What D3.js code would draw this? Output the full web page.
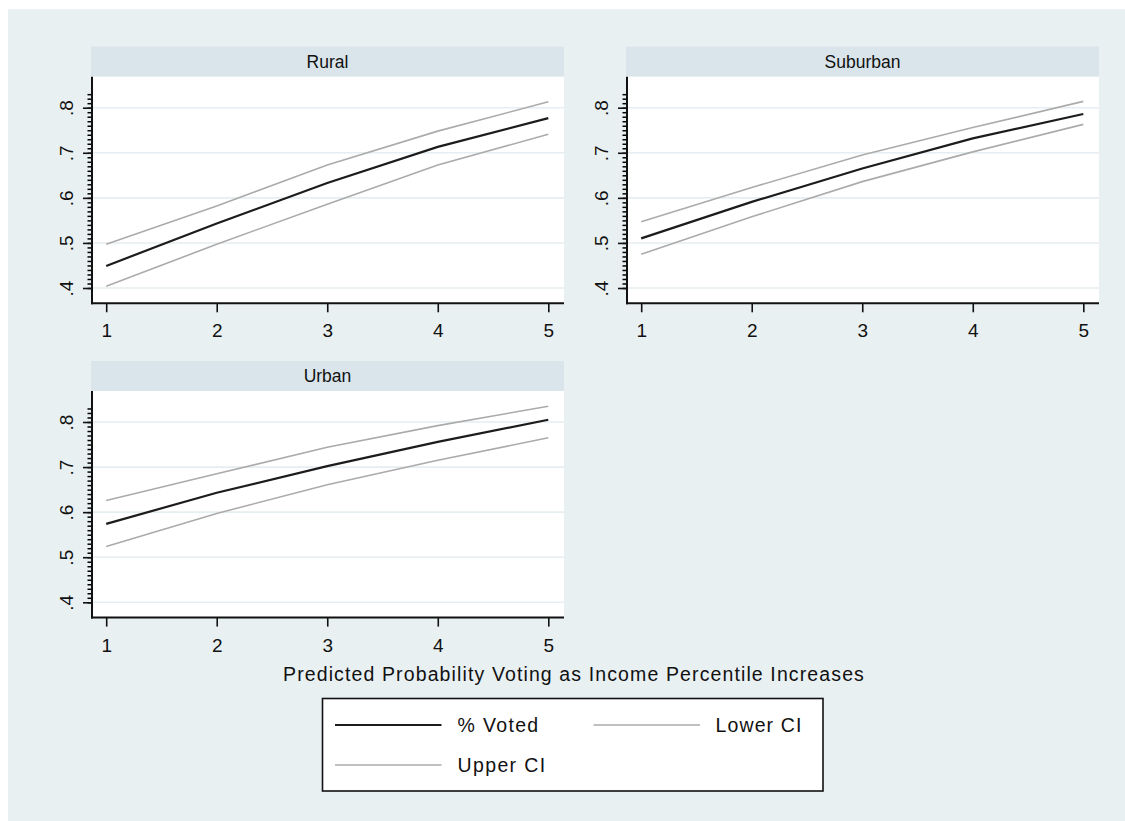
<!DOCTYPE html>
<html>
<head>
<meta charset="utf-8">
<script src="https://cdn.jsdelivr.net/npm/d3@7"></script>
<style>
  html, body { margin: 0; padding: 0; background: #ffffff; }
  svg { display: block; }
  text { font-family: "Liberation Sans", Arial, sans-serif; fill: #111; }
</style>
</head>
<body>
<svg id="chart" width="1125" height="821"></svg>
<script>
// ---------- data ----------
const incomeLevels = [1, 2, 3, 4, 5];
const panelNames = ["Rural", "Suburban", "Urban"];
const ruralVoted   = [0.449, 0.543, 0.633, 0.713, 0.777];
const ruralLower   = [0.404, 0.497, 0.586, 0.673, 0.741];
const ruralUpper   = [0.497, 0.582, 0.673, 0.748, 0.813];
const suburbVoted  = [0.510, 0.591, 0.665, 0.732, 0.786];
const suburbLower  = [0.475, 0.558, 0.636, 0.702, 0.763];
const suburbUpper  = [0.547, 0.623, 0.695, 0.756, 0.814];
const urbanVoted   = [0.574, 0.643, 0.702, 0.756, 0.805];
const urbanLower   = [0.524, 0.597, 0.661, 0.715, 0.765];
const urbanUpper   = [0.626, 0.685, 0.744, 0.792, 0.835];
const yTickValues  = [0.4, 0.5, 0.6, 0.7, 0.8];
const yTickLabels  = [".4", ".5", ".6", ".7", ".8"];
const xTickLabels  = ["1", "2", "3", "4", "5"];
const seriesNames  = ["% Voted", "Lower CI", "Upper CI"];
const xTitle = "Predicted Probability Voting as Income Percentile Increases";

const panelSeries = {
  "Rural":    [ruralVoted, ruralLower, ruralUpper],
  "Suburban": [suburbVoted, suburbLower, suburbUpper],
  "Urban":    [urbanVoted, urbanLower, urbanUpper]
};

// ---------- styles ----------
const seriesStyle = [
  { color: "#1c1c1c", width: 2.2 },
  { color: "#ababab", width: 1.6 },
  { color: "#ababab", width: 1.6 }
];

const svg = d3.select("#chart");

function fitWidth(sel, target) {
  const w = sel.node().getComputedTextLength();
  const n = sel.text().length;
  sel.style("letter-spacing", ((target - w) / n) + "px");
}

// outer graph region
svg.append("rect").attr("x", 8).attr("y", 9).attr("width", 1117).attr("height", 812)
  .attr("fill", "#e9f0f2");

const panelW = 473, headerH = 30, plotH = 226.6;
const panelPos = {
  "Rural":    { x: 91,  y: 46.7 },
  "Suburban": { x: 626, y: 46.7 },
  "Urban":    { x: 91,  y: 361 }
};

const x = d3.scaleLinear().domain([1, 5]).range([15.2, 457.3]);
const y = d3.scaleLinear().domain([0.4, 0.8]).range([211.3, 31]);

const minorTicks = d3.range(40, 84).map(d => d / 100);

panelNames.forEach(name => {
  const p = panelPos[name];
  const g = svg.append("g").attr("transform", `translate(${p.x},${p.y})`);

  // header strip
  g.append("rect").attr("x", 0).attr("y", 0).attr("width", panelW).attr("height", headerH)
    .attr("fill", "#d9e5ea");
  g.append("text").attr("x", panelW / 2).attr("y", headerH / 2 + 6)
    .attr("text-anchor", "middle").style("font-size", "17.5px").text(name);

  const pg = g.append("g").attr("transform", `translate(0,${headerH})`);
  pg.append("rect").attr("x", 0).attr("y", 0).attr("width", panelW).attr("height", plotH)
    .attr("fill", "#ffffff");

  // gridlines
  pg.selectAll("line.grid").data(yTickValues).enter().append("line")
    .attr("class", "grid")
    .attr("x1", 1).attr("x2", panelW)
    .attr("y1", d => y(d)).attr("y2", d => y(d))
    .attr("stroke", "#e6eef1").attr("stroke-width", 1.6);

  // series lines
  const lineGen = d3.line().x((d, i) => x(incomeLevels[i])).y(d => y(d));
  const series = panelSeries[name];
  [1, 2, 0].forEach(si => {
    pg.append("path").datum(series[si])
      .attr("d", lineGen)
      .attr("fill", "none")
      .attr("stroke", seriesStyle[si].color)
      .attr("stroke-width", seriesStyle[si].width);
  });

  // minor y ticks
  const minorAxis = d3.axisLeft(y).tickValues(minorTicks).tickSize(4.5).tickFormat("");
  const mg = pg.append("g").attr("transform", "translate(1,0)").call(minorAxis);
  mg.select(".domain").remove();
  mg.selectAll(".tick line").attr("stroke", "#000").attr("stroke-width", 1.5);

  // major y axis
  const yAxis = d3.axisLeft(y).tickValues(yTickValues).tickSize(9)
    .tickFormat((d, i) => yTickLabels[i]);
  const yg = pg.append("g").attr("transform", "translate(1,0)").call(yAxis);
  yg.select(".domain").remove();
  yg.selectAll(".tick line").attr("stroke", "#111").attr("stroke-width", 1.6);
  yg.selectAll(".tick text")
    .attr("x", 0).attr("y", -19.5).attr("dy", 0)
    .attr("transform", "rotate(-90)")
    .attr("text-anchor", "middle")
    .style("font-size", "19px").attr("fill", "#111");
  pg.append("line").attr("x1", 1).attr("x2", 1).attr("y1", 0).attr("y2", plotH + 1)
    .attr("stroke", "#111").attr("stroke-width", 2);

  // x axis
  const xAxis = d3.axisBottom(x).tickValues(incomeLevels).tickSize(9)
    .tickFormat((d, i) => xTickLabels[i]);
  const xg = pg.append("g").attr("transform", `translate(0,${plotH})`).call(xAxis);
  xg.select(".domain").remove();
  xg.selectAll(".tick line").attr("stroke", "#111").attr("stroke-width", 1.6);
  xg.selectAll(".tick text").attr("y", 34).attr("dy", 0)
    .style("font-size", "19px").attr("fill", "#111");
  pg.append("line").attr("x1", 0).attr("x2", panelW).attr("y1", plotH).attr("y2", plotH)
    .attr("stroke", "#111").attr("stroke-width", 2);
});

// x title
const tt = svg.append("text").attr("x", 283).attr("y", 681)
  .style("font-size", "19.5px").text(xTitle);
fitWidth(tt, 582);

// legend
const lg = svg.append("g");
lg.append("rect").attr("x", 322.5).attr("y", 698.5).attr("width", 500.5).attr("height", 92.5)
  .attr("fill", "#ffffff").attr("stroke", "#111").attr("stroke-width", 1.6);
const legendPos = [
  { lx: 335, ty: 725, tx: 457.5, tw: 82 },
  { lx: 593.5, ty: 725, tx: 715.5, tw: 87 },
  { lx: 335, ty: 765, tx: 457.5, tw: 89 }
];
seriesNames.forEach((s, i) => {
  const lp = legendPos[i];
  lg.append("line").attr("x1", lp.lx).attr("x2", lp.lx + 106.5)
    .attr("y1", lp.ty).attr("y2", lp.ty)
    .attr("stroke", seriesStyle[i].color).attr("stroke-width", seriesStyle[i].width);
  const t = lg.append("text").attr("x", lp.tx).attr("y", lp.ty + 7).style("font-size", "19.5px").text(s);
  fitWidth(t, lp.tw);
});
</script>
</body>
</html>
